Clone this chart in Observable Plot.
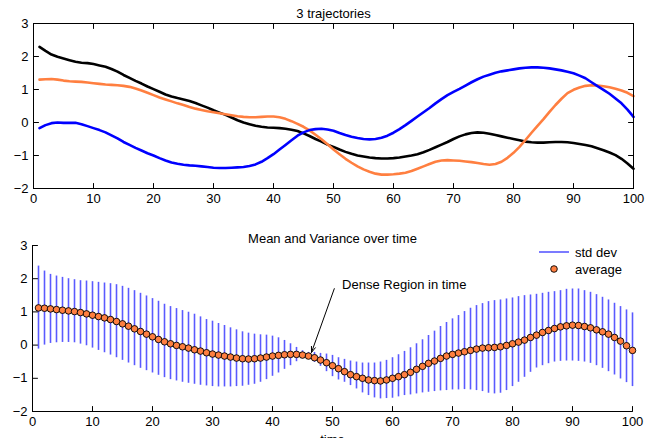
<!DOCTYPE html>
<html><head><meta charset="utf-8">
<script src="https://cdn.jsdelivr.net/npm/d3@7"></script>
<script src="https://cdn.jsdelivr.net/npm/@observablehq/plot@0.6"></script>
<style>
html,body{margin:0;padding:0;background:#fff;overflow:hidden;width:656px;height:438px;}
#wrap{position:relative;width:656px;height:438px;font-family:"Liberation Sans",Arial,sans-serif;}
#top,#bottom,#legend{position:absolute;left:0;}
#top{top:0}
#bottom{top:215px}
#legend{top:0;pointer-events:none}
</style></head><body>
<div id="wrap"><div id="top"></div><div id="bottom"></div><svg id="legend" width="656" height="438"></svg></div>
<script>
// ---- data ----
const time = d3.range(1, 101);
const xTicks = [0, 10, 20, 30, 40, 50, 60, 70, 80, 90, 100];
const yTicks = [-2, -1, 0, 1, 2, 3];

const trajBlack = [2.29,2.17,2.06,1.99,1.94,1.89,1.84,1.81,1.80,1.77,
1.73,1.69,1.62,1.54,1.44,1.35,1.26,1.18,1.09,1.01,
0.93,0.85,0.79,0.74,0.70,0.65,0.59,0.52,0.45,0.37,
0.30,0.23,0.15,0.07,0.00,-0.05,-0.10,-0.13,-0.15,-0.16,
-0.17,-0.19,-0.22,-0.26,-0.33,-0.41,-0.50,-0.58,-0.67,-0.74,
-0.82,-0.89,-0.95,-1.00,-1.03,-1.06,-1.08,-1.09,-1.09,-1.08,
-1.06,-1.03,-1.00,-0.96,-0.90,-0.83,-0.75,-0.67,-0.59,-0.50,
-0.42,-0.36,-0.32,-0.30,-0.31,-0.34,-0.38,-0.42,-0.46,-0.50,
-0.54,-0.58,-0.60,-0.61,-0.61,-0.60,-0.59,-0.59,-0.60,-0.62,
-0.65,-0.68,-0.72,-0.78,-0.84,-0.91,-0.99,-1.10,-1.24,-1.40];

const trajOrange = [1.30,1.31,1.32,1.30,1.27,1.25,1.24,1.23,1.21,1.19,
1.17,1.15,1.14,1.13,1.11,1.08,1.03,0.97,0.90,0.83,
0.76,0.70,0.64,0.58,0.53,0.47,0.42,0.38,0.34,0.31,
0.28,0.25,0.22,0.19,0.17,0.16,0.16,0.17,0.18,0.18,
0.16,0.11,0.04,-0.04,-0.13,-0.24,-0.37,-0.51,-0.66,-0.82,
-0.96,-1.10,-1.22,-1.33,-1.42,-1.49,-1.55,-1.58,-1.58,-1.57,
-1.55,-1.52,-1.47,-1.40,-1.33,-1.26,-1.19,-1.15,-1.14,-1.15,
-1.16,-1.18,-1.20,-1.23,-1.26,-1.28,-1.26,-1.19,-1.07,-0.92,
-0.74,-0.53,-0.31,-0.10,0.10,0.32,0.53,0.72,0.89,0.99,
1.06,1.11,1.13,1.12,1.10,1.07,1.02,0.97,0.90,0.80];

const trajBlue = [-0.17,-0.08,-0.02,0.00,-0.01,-0.01,-0.01,-0.05,-0.11,-0.17,
-0.23,-0.30,-0.39,-0.48,-0.59,-0.68,-0.77,-0.85,-0.93,-1.00,
-1.08,-1.15,-1.21,-1.25,-1.28,-1.30,-1.31,-1.33,-1.35,-1.37,
-1.38,-1.38,-1.37,-1.36,-1.35,-1.32,-1.27,-1.19,-1.08,-0.96,
-0.82,-0.68,-0.54,-0.40,-0.30,-0.23,-0.20,-0.19,-0.21,-0.25,
-0.32,-0.38,-0.43,-0.47,-0.50,-0.51,-0.50,-0.46,-0.40,-0.31,
-0.20,-0.08,0.05,0.18,0.31,0.44,0.58,0.71,0.83,0.93,
1.02,1.12,1.22,1.31,1.39,1.45,1.51,1.55,1.58,1.61,
1.64,1.66,1.67,1.67,1.66,1.64,1.61,1.58,1.54,1.49,
1.42,1.34,1.22,1.10,0.99,0.87,0.73,0.58,0.39,0.17];

const average = [1.12,1.11,1.09,1.07,1.05,1.03,1.01,0.98,0.94,0.90,
0.86,0.82,0.77,0.71,0.64,0.57,0.49,0.41,0.33,0.25,
0.17,0.10,0.04,-0.01,-0.05,-0.09,-0.14,-0.18,-0.23,-0.27,
-0.30,-0.33,-0.36,-0.39,-0.41,-0.42,-0.41,-0.39,-0.36,-0.33,
-0.31,-0.29,-0.28,-0.28,-0.30,-0.33,-0.38,-0.45,-0.53,-0.62,
-0.71,-0.80,-0.89,-0.95,-1.00,-1.05,-1.07,-1.08,-1.05,-1.00,
-0.95,-0.89,-0.82,-0.73,-0.64,-0.55,-0.48,-0.40,-0.33,-0.28,
-0.24,-0.20,-0.16,-0.12,-0.09,-0.08,-0.07,-0.05,-0.01,0.04,
0.09,0.15,0.23,0.30,0.38,0.44,0.50,0.55,0.58,0.60,
0.59,0.56,0.52,0.46,0.40,0.33,0.23,0.12,-0.02,-0.16];

const stdUpper = [2.38,2.23,2.13,2.08,2.04,2.00,1.97,1.94,1.93,1.91,
1.89,1.87,1.85,1.82,1.77,1.71,1.64,1.56,1.48,1.40,
1.32,1.23,1.16,1.10,1.04,0.99,0.93,0.85,0.77,0.72,
0.65,0.59,0.52,0.46,0.40,0.36,0.33,0.31,0.30,0.27,
0.22,0.14,0.04,-0.07,-0.17,-0.22,-0.22,-0.25,-0.27,-0.31,
-0.38,-0.43,-0.48,-0.51,-0.54,-0.54,-0.54,-0.51,-0.46,-0.38,
-0.29,-0.19,-0.08,0.04,0.16,0.29,0.42,0.56,0.68,0.79,
0.89,1.01,1.11,1.19,1.25,1.31,1.34,1.36,1.39,1.42,
1.46,1.49,1.51,1.53,1.56,1.59,1.61,1.64,1.68,1.69,
1.69,1.64,1.59,1.52,1.44,1.36,1.26,1.16,1.06,0.97];

const stdLower = [-0.12,0.00,0.05,0.07,0.08,0.08,0.07,0.03,-0.02,-0.09,
-0.16,-0.23,-0.30,-0.38,-0.46,-0.54,-0.62,-0.70,-0.77,-0.84,
-0.91,-0.98,-1.04,-1.08,-1.12,-1.15,-1.18,-1.21,-1.23,-1.25,
-1.26,-1.26,-1.26,-1.25,-1.24,-1.21,-1.18,-1.12,-1.04,-0.94,
-0.84,-0.73,-0.62,-0.50,-0.41,-0.40,-0.52,-0.64,-0.80,-0.95,
-1.05,-1.12,-1.22,-1.32,-1.44,-1.52,-1.59,-1.62,-1.61,-1.60,
-1.56,-1.52,-1.50,-1.47,-1.44,-1.42,-1.40,-1.38,-1.37,-1.35,
-1.35,-1.34,-1.35,-1.37,-1.40,-1.45,-1.47,-1.45,-1.37,-1.25,
-1.12,-0.97,-0.82,-0.69,-0.62,-0.56,-0.51,-0.49,-0.48,-0.48,
-0.49,-0.51,-0.55,-0.62,-0.70,-0.80,-0.90,-1.02,-1.13,-1.25];

const topTitle = "3 trajectories";
const bottomTitle = "Mean and Variance over time";
const xLabel = "time";
const annotation = "Dense Region in time";
const legendLabels = ["std dev", "average"];

// ---- tables ----
const rows = time.map((t, i) => ({
  t, black: trajBlack[i], orange: trajOrange[i], blue: trajBlue[i],
  mean: average[i], lo: stdLower[i], hi: stdUpper[i]
}));

const COL_BLACK = "#000000", COL_ORANGE = "#ff7f40", COL_BLUE = "#0000ff";
const COL_STD = "#5a5aff", COL_DOT = "#ff7f40";
const FONT = '"Liberation Sans", Arial, Helvetica, sans-serif';
const fmt = d => d < 0 ? "\u2212" + Math.abs(d) : String(d);

const tickShape = {draw(ctx, l) { ctx.moveTo(0, 0); ctx.lineTo(0, -l); }};
const tk = (data, opts) => Plot.vector(data, {length: 5, anchor: "start", shape: tickShape, stroke: "black", strokeWidth: 1, ...opts});

// ---- top chart ----
const topPlot = Plot.plot({
  width: 656, height: 215,
  marginTop: 23, marginBottom: 27, marginLeft: 33, marginRight: 23,
  style: {fontSize: "13px", fontFamily: FONT, color: "black", background: "white"},
  x: {domain: [0, 100], label: null},
  y: {domain: [-2, 3], label: null},
  marks: [
    Plot.line(rows, {x: "t", y: "black", stroke: COL_BLACK, strokeWidth: 2.6}),
    Plot.line(rows, {x: "t", y: "orange", stroke: COL_ORANGE, strokeWidth: 2.6}),
    Plot.line(rows, {x: "t", y: "blue", stroke: COL_BLUE, strokeWidth: 2.6}),
    Plot.frame({stroke: "black", strokeWidth: 1}),
    tk(xTicks, {x: d => d, frameAnchor: "bottom", rotate: 0}),
    tk(xTicks, {x: d => d, frameAnchor: "top", rotate: 180}),
    tk(yTicks, {y: d => d, frameAnchor: "left", rotate: 90}),
    tk(yTicks, {y: d => d, frameAnchor: "right", rotate: 270}),
    Plot.axisX({ticks: xTicks, tickSize: 0, tickPadding: 5, label: null, tickFormat: fmt}),
    Plot.axisY({ticks: yTicks, tickSize: 0, tickPadding: 5, label: null, tickFormat: fmt}),
    Plot.text([topTitle], {text: d => d, frameAnchor: "top", dy: -10, lineAnchor: "middle", fontSize: 13})
  ]
});
document.getElementById("top").appendChild(topPlot);

// ---- bottom chart ----
const bottomPlot = Plot.plot({
  width: 656, height: 240,
  marginTop: 30, marginBottom: 44, marginLeft: 32, marginRight: 24,
  style: {fontSize: "13px", fontFamily: FONT, color: "black", background: "white"},
  x: {domain: [0, 100], label: null},
  y: {domain: [-2, 3], label: null},
  marks: [
    Plot.ruleX(rows, {x: "t", y1: "lo", y2: "hi", stroke: COL_STD, strokeWidth: 1.6}),
    Plot.dot(rows, {x: "t", y: "mean", r: 3.3, fill: COL_DOT, stroke: "black", strokeWidth: 0.9}),
    Plot.ruleX([0], {stroke: "black", strokeWidth: 1}),
    Plot.ruleY([-2], {stroke: "black", strokeWidth: 1}),
    tk(xTicks, {x: d => d, frameAnchor: "bottom", rotate: 0}),
    tk(yTicks, {y: d => d, frameAnchor: "left", rotate: 90}),
    Plot.axisX({ticks: xTicks, tickSize: 0, tickPadding: 5, label: null, tickFormat: fmt}),
    Plot.axisY({ticks: yTicks, tickSize: 0, tickPadding: 5, label: null, tickFormat: fmt}),
    Plot.arrow([0], {x1: 50.3, y1: 1.70, x2: 46.5, y2: -0.22, stroke: "black", strokeWidth: 1, headLength: 9, headAngle: 40}),
    Plot.text([annotation], {text: d => d, x: 51.6, y: 1.83, textAnchor: "start", fontSize: 13}),
    Plot.text([bottomTitle], {text: d => d, frameAnchor: "top", dy: -7, lineAnchor: "middle", fontSize: 13}),
    Plot.text([xLabel], {text: d => d, frameAnchor: "bottom", dy: 28, lineAnchor: "middle", fontSize: 13})
  ]
});
document.getElementById("bottom").appendChild(bottomPlot);

// ---- legend ----
const lg = d3.select("#legend");
lg.append("line").attr("x1", 539).attr("x2", 569).attr("y1", 252).attr("y2", 252)
  .attr("stroke", COL_STD).attr("stroke-width", 1.6);
lg.append("circle").attr("cx", 554).attr("cy", 269).attr("r", 3.3)
  .attr("fill", COL_DOT).attr("stroke", "black").attr("stroke-width", 0.9);
lg.selectAll("text").data(legendLabels).join("text")
  .attr("x", 575).attr("y", (d, i) => [252, 269][i])
  .attr("dominant-baseline", "central")
  .attr("font-family", FONT).attr("font-size", 13)
  .text(d => d);
</script>
</body></html>
